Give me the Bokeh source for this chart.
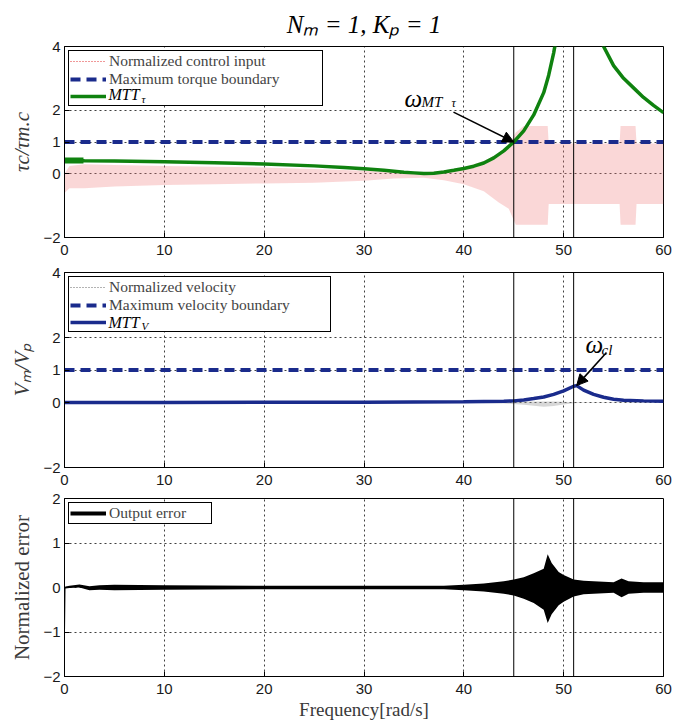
from bokeh.plotting import figure
from bokeh.models import Span, Label, Arrow, NormalHead, Legend, LegendItem
from bokeh.layouts import column
from bokeh.embed import file_html
from bokeh.resources import INLINE

# ---------------- data ----------------
freq_ticks = [0, 10, 20, 30, 40, 50, 60]
top_yticks = [-2, 0, 1, 2, 4]
mid_yticks = [-2, 0, 1, 2, 4]
bot_yticks = [-2, -1, 0, 1, 2]

omega_mt = 45.0
omega_cl = 51.0
limit_freq = [0, 60]
torque_limit = [1.0, 1.0]
velocity_limit = [1.0, 1.0]
NAN = [float("nan")]

# Normalized control input (dense oscillation) -> envelope
ctrl_freq = [0.0, 0.5, 2, 5, 10, 15, 20, 25, 30, 33, 36, 38, 40, 42, 43.5, 44.5,
             45.2, 46, 48.4, 48.5, 55.6, 55.7, 57.2, 57.3, 60]
ctrl_hi = [0.0, 0.25, 0.3, 0.28, 0.25, 0.22, 0.2, 0.15, 0.1, 0.06, 0.05, 0.1, 0.2,
           0.4, 0.65, 0.9, 1.3, 1.5, 1.5, 0.95, 0.95, 1.5, 1.5, 0.95, 0.95]
ctrl_lo = [-0.6, -0.45, -0.45, -0.4, -0.35, -0.33, -0.3, -0.28, -0.22, -0.15, -0.12,
           -0.2, -0.33, -0.55, -0.9, -1.1, -1.6, -1.6, -1.6, -0.95, -0.95, -1.6,
           -1.6, -0.95, -0.95]

# MTT_tau curve (two branches around the resonance)
mtt_tau_freq_a = [0, 2, 5, 10, 15, 20, 25, 28, 30, 32, 34, 35, 36, 37, 38, 39, 40,
                  41, 42, 43, 44, 45, 46, 47, 48, 48.5, 49, 49.4]
mtt_tau_a = [0.42, 0.41, 0.40, 0.38, 0.35, 0.31, 0.25, 0.2, 0.16, 0.11, 0.05, 0.03,
             0.01, 0.02, 0.06, 0.11, 0.17, 0.24, 0.34, 0.5, 0.72, 1.0, 1.35, 1.85,
             2.55, 3.1, 3.8, 4.5]
mtt_tau_freq_b = [53.6, 54, 55, 56, 57, 58, 59, 60]
mtt_tau_b = [4.5, 4.0, 3.4, 3.0, 2.7, 2.4, 2.15, 1.92]
mtt_tau_start_freq = [0, 1.9]
mtt_tau_start = [0.42, 0.42]

# Normalized velocity (envelope)
vel_freq = [0, 40, 44, 46, 47, 48, 49, 50, 51, 52, 60]
vel_hi = [0.01, 0.01, 0.02, 0.03, 0.03, 0.03, 0.03, 0.02, 0.01, 0.01, 0.01]
vel_lo = [-0.01, -0.01, -0.03, -0.07, -0.1, -0.13, -0.11, -0.06, -0.02, -0.01, -0.01]

# MTT_V curve
mtt_v_freq = [0, 10, 20, 30, 35, 40, 44, 45, 46, 47, 48, 49, 50, 51, 51.3, 52, 53,
              54, 55, 56, 58, 60]
mtt_v = [0.0, 0.0, 0.005, 0.01, 0.015, 0.02, 0.04, 0.05, 0.08, 0.12, 0.17, 0.25,
         0.36, 0.5, 0.52, 0.38, 0.25, 0.16, 0.1, 0.07, 0.05, 0.04]

# Output error (dense oscillation) -> envelope
err_freq = [0, 0.1, 0.5, 1.5, 2.5, 3.5, 5, 10, 20, 30, 38, 40, 42, 44, 45, 46, 47,
            48, 48.4, 48.8, 49.5, 50, 51, 52, 55, 55.8, 56.5, 58, 60]
err_hi = [0.0, 0.02, 0.04, 0.07, 0.03, 0.05, 0.06, 0.05, 0.04, 0.04, 0.04, 0.06,
          0.09, 0.14, 0.18, 0.23, 0.32, 0.42, 0.75, 0.55, 0.35, 0.28, 0.18, 0.15,
          0.12, 0.2, 0.14, 0.12, 0.12]
err_lo = [-2.0, -0.02, -0.01, 0.0, -0.06, -0.05, -0.06, -0.05, -0.04, -0.04, -0.04,
          -0.06, -0.09, -0.14, -0.18, -0.25, -0.35, -0.5, -0.8, -0.6, -0.4, -0.32,
          -0.2, -0.15, -0.12, -0.22, -0.14, -0.12, -0.12]

TITLE = "Nₘ = 1, Kₚ = 1"

# ---------------- styling helpers ----------------
SERIF = "Liberation Serif"
SANS = "Liberation Sans"
NAVY = "#1a2b8c"
GREEN = "#0f820f"
LBL = "#3a3a3a"
FRAME_L = 64.0
FRAME_W = 599.0
FULL_W = 691
LEG_FONT = 15.5
LEG_PAD = 1
LEG_ROW = 17.8
MINUS = {-2: "\u22122", -1: "\u22121"}


def make_fig(height, top, bottom, yr, yticks, ylabel, ystyle, ysize, title=None):
    p = figure(width=FULL_W, height=height, x_range=(0, 60), y_range=yr, title=title,
               output_backend="svg", toolbar_location=None,
               min_border_left=int(FRAME_L), min_border_right=28,
               min_border_top=top, min_border_bottom=bottom)
    p.xaxis.ticker = freq_ticks
    p.yaxis.ticker = yticks
    p.yaxis.major_label_overrides = {k: v for k, v in MINUS.items() if k in yticks}
    for ax in p.axis:
        ax.major_tick_in = 5
        ax.major_tick_out = 0
        ax.minor_tick_in = 0
        ax.minor_tick_out = 0
        ax.major_label_text_font = SANS
        ax.major_label_text_font_size = "15px"
        ax.major_label_text_color = "#1a1a1a"
        ax.axis_line_color = "black"
        ax.major_tick_line_color = "black"
    p.xaxis.major_label_standoff = 7
    p.yaxis.major_label_standoff = 4
    p.yaxis.axis_label = ylabel
    p.yaxis.axis_label_text_font = SERIF
    p.yaxis.axis_label_text_font_size = f"{ysize}px"
    p.yaxis.axis_label_text_font_style = ystyle
    p.yaxis.axis_label_text_color = LBL
    p.yaxis.axis_label_standoff = 6
    p.grid.grid_line_color = "black"
    p.grid.grid_line_dash = "2 3"
    p.grid.grid_line_alpha = 0.75
    p.outline_line_color = "black"
    p.outline_line_alpha = 1.0
    p.background_fill_color = "white"
    p.border_fill_color = "white"
    return p


def conv(frame_top, ppu, ymax):
    def f(px, py):
        return (px - FRAME_L) * 60.0 / FRAME_W, ymax + (frame_top - py) / ppu
    return f


def text(p, xy, s, size, style="normal", align="left", baseline="alphabetic",
         color="black", font=SERIF):
    x, y = xy
    p.add_layout(Label(x=x, y=y, text=s, text_font=font,
                       text_font_size=f"{size}px", text_font_style=style,
                       text_align=align, text_baseline=baseline, text_color=color))


def legend_for(p, conv_f, items, label_width, left, top):
    n = len(items)
    width = 2 * LEG_PAD + 36 + 3 + label_width
    height = 2 * LEG_PAD + n * LEG_ROW
    (l, t), (r, b) = conv_f(left, top), conv_f(left + width, top + height)
    # white backing box (legend itself is transparent so the overlay texts show)
    p.quad(left=l, right=r, top=t, bottom=b, fill_color="white", line_color=None)
    lg = Legend(items=items, location="top_left")
    lg.label_text_font = SERIF
    lg.label_text_font_size = f"{LEG_FONT}px"
    lg.label_height = 16
    lg.glyph_height = 16
    lg.glyph_width = 36
    lg.label_width = label_width
    lg.label_standoff = 3
    lg.padding = LEG_PAD
    lg.spacing = 0
    lg.margin = 4
    lg.border_line_color = "black"
    lg.border_line_width = 1
    lg.border_line_alpha = 1
    lg.background_fill_alpha = 0
    p.add_layout(lg)


def vmarks(p):
    for xv in (omega_mt, omega_cl):
        p.add_layout(Span(location=xv, dimension="height", line_color="black",
                          line_width=1))


# ---------------- top panel (with title) ----------------
TOP1 = 42
H1 = TOP1 + 195 + 25
p1 = make_fig(H1, TOP1, 25, (-2, 4), top_yticks, "τc/τm.c", "italic", 21,
              title=TITLE)
p1.title.align = "center"
p1.title.text_font = SERIF
p1.title.text_font_size = "25px"
p1.title.text_font_style = "italic"
p1.title.text_color = "black"
p1.title.standoff = 17
c1 = conv(42.0, 195.0 / 6.0, 4.0)
p1.varea(x=ctrl_freq, y1=ctrl_lo, y2=ctrl_hi, fill_color="#f07a7a", fill_alpha=0.3)
r_ctrl = p1.line(x=NAN, y=NAN, line_color="#e03030", line_dash="1 2", line_width=1)
r_tlim = p1.line(x=limit_freq, y=torque_limit, line_color=NAVY, line_width=4,
                 line_dash="10 6")
r_mtt = p1.line(x=mtt_tau_freq_a, y=mtt_tau_a, line_color=GREEN, line_width=3.5)
p1.line(x=mtt_tau_freq_b, y=mtt_tau_b, line_color=GREEN, line_width=3.5)
p1.line(x=mtt_tau_start_freq, y=mtt_tau_start, line_color=GREEN, line_width=6)
vmarks(p1)
legend_for(p1, c1, [LegendItem(label="Normalized control input", renderers=[r_ctrl]),
                    LegendItem(label="Maximum torque boundary", renderers=[r_tlim]),
                    LegendItem(label=" ", renderers=[r_mtt])], 212, 68, 46)
row3_y = 46 + LEG_PAD + 2.5 * LEG_ROW
text(p1, c1(108, row3_y), "MTT", 16, "italic", baseline="middle")
text(p1, c1(141, row3_y + 4), "τ", 11, "italic", baseline="middle")

i45 = mtt_tau_freq_a.index(omega_mt)
sx, sy = c1(453, 109)
p1.add_layout(Arrow(end=NormalHead(size=11, fill_color="black", line_color="black"),
                    x_start=sx, y_start=sy, x_end=omega_mt, y_end=mtt_tau_a[i45],
                    line_color="black", line_width=1.6))
text(p1, c1(404, 95), "ω", 25, "italic")
text(p1, c1(421, 99), "MT", 15, "italic")
text(p1, c1(451, 100), "τ", 12, "italic")

# ---------------- middle panel ----------------
H2 = 226
p2 = make_fig(H2, 10, 21, (-2, 4), mid_yticks, "Vₘ/Vₚ", "italic", 21)
c2 = conv(272.0, 195.0 / 6.0, 4.0)
p2.varea(x=vel_freq, y1=vel_lo, y2=vel_hi, fill_color="#9a9a9a", fill_alpha=0.4)
r_vel = p2.line(x=NAN, y=NAN, line_color="#666666", line_dash="1 2", line_width=1)
r_vlim = p2.line(x=limit_freq, y=velocity_limit, line_color=NAVY, line_width=4,
                 line_dash="10 6")
r_mttv = p2.line(x=mtt_v_freq, y=mtt_v, line_color=NAVY, line_width=3.5)
vmarks(p2)
legend_for(p2, c2, [LegendItem(label="Normalized velocity", renderers=[r_vel]),
                    LegendItem(label="Maximum velocity boundary", renderers=[r_vlim]),
                    LegendItem(label=" ", renderers=[r_mttv])], 220, 68, 276)
row3_y2 = 276 + LEG_PAD + 2.5 * LEG_ROW
text(p2, c2(108, row3_y2), "MTT", 16, "italic", baseline="middle")
text(p2, c2(141, row3_y2 + 4), "V", 11, "italic", baseline="middle")

ipk = mtt_v.index(max(mtt_v))
ax0, ay0 = c2(606, 352)
p2.add_layout(Arrow(end=NormalHead(size=11, fill_color="black", line_color="black"),
                    x_start=ax0, y_start=ay0, x_end=mtt_v_freq[ipk], y_end=mtt_v[ipk],
                    line_color="black", line_width=1.6))
text(p2, c2(585, 344), "ω", 25, "italic")
text(p2, c2(601, 349), "cl", 15, "italic")

# ---------------- bottom panel ----------------
H3 = 234
p3 = make_fig(H3, 10, 45, (-2, 2), bot_yticks, "Normalized error", "normal", 21)
c3 = conv(498.0, 179.0 / 4.0, 2.0)
p3.varea(x=err_freq, y1=err_lo, y2=err_hi, fill_color="black", fill_alpha=1.0)
r_err_leg = p3.line(x=NAN, y=NAN, line_color="black", line_width=4)
vmarks(p3)
legend_for(p3, c3, [LegendItem(label="Output error", renderers=[r_err_leg])], 101,
           68, 502)
p3.xaxis.axis_label = "Frequency[rad/s]"
p3.xaxis.axis_label_text_font = SERIF
p3.xaxis.axis_label_text_font_size = "19px"
p3.xaxis.axis_label_text_font_style = "normal"
p3.xaxis.axis_label_text_color = LBL
p3.xaxis.axis_label_standoff = 2

layout = column(p1, p2, p3, spacing=0)
open("out.html", "w").write(file_html(layout, INLINE))
